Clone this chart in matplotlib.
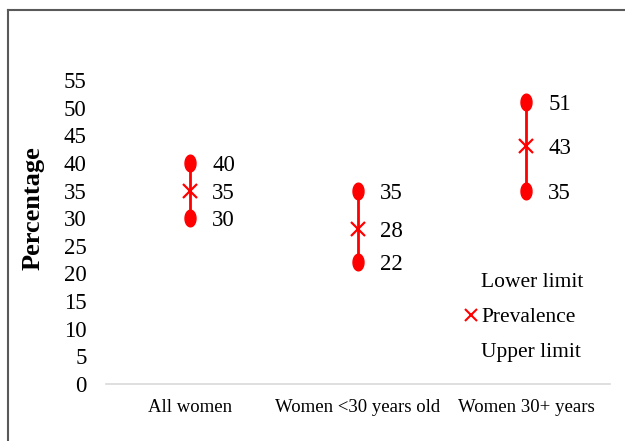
import numpy as np
import matplotlib.pyplot as plt
import matplotlib.path as mpath
from matplotlib.lines import Line2D

plt.rcParams['font.family'] = ['Liberation Serif', 'DejaVu Serif']

categories = ["All women", "Women <30 years old", "Women 30+ years"]
lower = [30, 22, 35]
prevalence = [35, 28, 43]
upper = [40, 35, 51]

red = "#ff0000"

# Excel-style oval marker
t = np.linspace(0, 2 * np.pi, 40)
oval = mpath.Path(np.column_stack([0.66 * np.cos(t), np.sin(t)]))

fig = plt.figure(figsize=(6.25, 4.41), dpi=100)
ax = fig.add_axes([106 / 625, 1 - 384 / 441, 504 / 625, 304 / 441])

x = list(range(len(categories)))
ax.vlines(x, lower, upper, color=red, lw=2, zorder=2)
ax.plot(x, lower, ls="none", marker=oval, ms=12, color=red, zorder=3)
ax.plot(x, upper, ls="none", marker=oval, ms=12, color=red, zorder=3)
ax.plot(x, prevalence, ls="none", marker="x", color=red, ms=10, mew=1.6, zorder=3)

for xi, lo, pv, up in zip(x, lower, prevalence, upper):
    for v in (lo, pv, up):
        ax.annotate(str(v), (xi, v), xytext=(16, 0), textcoords="offset points",
                    va="center_baseline", ha="left", fontsize=16.5)

ax.set_xlim(-0.5, len(categories) - 0.5)
ax.set_ylim(0, 55)
ax.set_yticks(range(0, 56, 5))
ax.set_xticks(x)
ax.set_xticklabels(categories, fontsize=13.5)
ax.tick_params(axis="y", length=0, labelsize=16.5, pad=14)
ax.tick_params(axis="x", length=0, pad=11)
for s in ("top", "right", "left"):
    ax.spines[s].set_visible(False)
ax.spines["bottom"].set_color("#d9d9d9")
ax.spines["bottom"].set_linewidth(1.2)
ax.set_ylabel("Percentage", fontsize=19, fontweight="bold")
ax.yaxis.set_label_coords(-0.121, 0.58)

handles = [
    Line2D([], [], ls="none", marker="o", color="white"),
    Line2D([], [], ls="none", marker="x", color=red, ms=9, mew=1.5),
    Line2D([], [], ls="none", marker="o", color="white"),
]
ax.legend(handles, ["Lower limit", "Prevalence", "Upper limit"], loc="center left",
          bbox_to_anchor=(465 / 625, 1 - 317 / 441), bbox_transform=fig.transFigure,
          frameon=False, fontsize=15.5, handlelength=0.6, handletextpad=0.15,
          labelspacing=0.68, borderpad=0, borderaxespad=0)

# outer chart border (cropped on the right and bottom)
fig.add_artist(Line2D([8 / 625, 8 / 625], [0, 1 - 10 / 441], color="#595959", lw=1.5))
fig.add_artist(Line2D([8 / 625, 1], [1 - 10 / 441, 1 - 10 / 441], color="#595959", lw=1.5))

fig.savefig("out.png", dpi=100)
